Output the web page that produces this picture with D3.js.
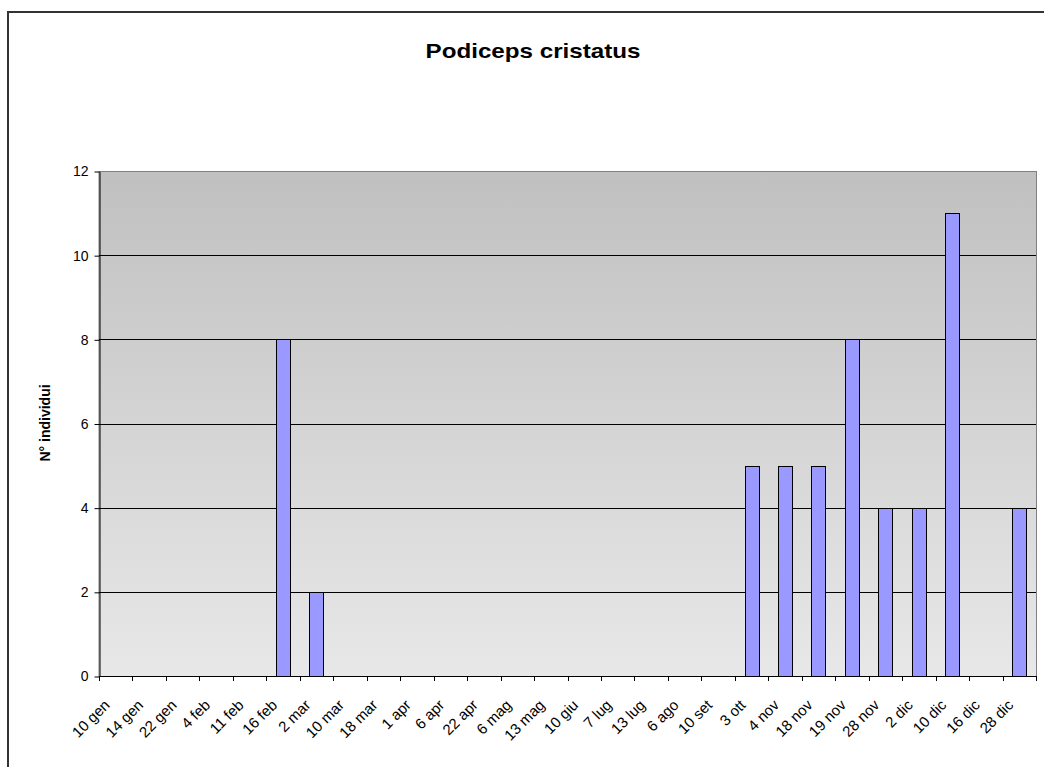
<!DOCTYPE html>
<html>
<head>
<meta charset="utf-8">
<script src="https://cdn.jsdelivr.net/npm/d3@7"></script>
<style>
  body { margin: 0; background: #fff; }
  svg { display: block; font-family: Arial, "Liberation Sans", sans-serif; }
</style>
</head>
<body>
<svg id="chart"></svg>
<script>
// dates of the counts
var dates = ["10 gen", "14 gen", "22 gen", "4 feb", "11 feb", "16 feb", "2 mar", "10 mar",
  "18 mar", "1 apr", "6 apr", "22 apr", "6 mag", "13 mag", "10 giu", "7 lug", "13 lug",
  "6 ago", "10 set", "3 ott", "4 nov", "18 nov", "19 nov", "28 nov", "2 dic", "10 dic",
  "16 dic", "28 dic"];
// N° individui
var counts = [0, 0, 0, 0, 0, 8, 2, 0, 0, 0, 0, 0, 0, 0, 0, 0, 0, 0, 0, 5, 5, 5, 8, 4, 4, 11, 0, 4];
var yTicks = [0, 2, 4, 6, 8, 10, 12];

var width = 1044, height = 767;
var plotLeft = 99, plotRight = 1036, plotTop = 171, plotBottom = 676;

var svg = d3.select('#chart')
  .attr('width', width)
  .attr('height', height);

// outer chart border (runs off the right and bottom edges)
svg.append('rect')
  .attr('x', 8).attr('y', 12)
  .attr('width', 1060).attr('height', 800)
  .attr('fill', '#fff')
  .attr('stroke', '#333')
  .attr('stroke-width', 2);

var defs = svg.append('defs');
var grad = defs.append('linearGradient')
  .attr('id', 'bg')
  .attr('x1', 0).attr('y1', 0).attr('x2', 0).attr('y2', 1);
grad.append('stop').attr('offset', '0%').attr('stop-color', '#c0c0c0');
grad.append('stop').attr('offset', '100%').attr('stop-color', '#e8e8e8');

var data = dates.map((d, i) => ({ date: d, value: counts[i] }));

var xCat = d3.scaleBand()
  .domain(dates)
  .range([plotLeft, plotRight]);

var xBar = d3.scaleBand()
  .domain(dates)
  .range([plotLeft, plotRight])
  .paddingInner(0.58)
  .paddingOuter(0.29);

var y = d3.scaleLinear()
  .domain([0, 12])
  .range([plotBottom, plotTop]);

// plot area
svg.append('rect')
  .attr('x', plotLeft).attr('y', plotTop + 0.5)
  .attr('width', plotRight - plotLeft + 0.5).attr('height', plotBottom - plotTop)
  .attr('fill', 'url(#bg)')
  .attr('stroke', '#808080')
  .attr('stroke-width', 1);

// gridlines
svg.append('g')
  .selectAll('line')
  .data(yTicks.filter(d => d > 0 && d < 12))
  .enter()
  .append('line')
  .attr('x1', plotLeft).attr('x2', plotRight)
  .attr('y1', d => Math.round(y(d)) + 0.5)
  .attr('y2', d => Math.round(y(d)) + 0.5)
  .attr('stroke', '#000')
  .attr('stroke-width', 1);

// bars
svg.append('g')
  .selectAll('rect')
  .data(data.filter(d => d.value > 0))
  .enter()
  .append('rect')
  .attr('x', d => Math.round(xBar(d.date)) + 0.5)
  .attr('y', d => Math.round(y(d.value)) + 0.5)
  .attr('width', Math.round(xBar.bandwidth()))
  .attr('height', d => Math.round(y(0)) - Math.round(y(d.value)))
  .attr('fill', '#9999ff')
  .attr('stroke', '#000')
  .attr('stroke-width', 1);

// y axis
var yAxis = svg.append('g')
  .attr('transform', `translate(${plotLeft + 0.5},0.5)`)
  .call(d3.axisLeft(y).tickValues(yTicks).tickSize(5).tickSizeOuter(0).tickPadding(6));
yAxis.select('.domain').attr('stroke', '#000');
yAxis.selectAll('.tick line').attr('stroke', '#000');
yAxis.selectAll('.tick text')
  .attr('font-size', 14)
  .attr('font-family', 'Arial, "Liberation Sans", sans-serif')
  .attr('fill', '#000');

// x axis: line, boundary ticks, rotated labels
var xg = svg.append('g');
xg.append('line')
  .attr('x1', plotLeft).attr('x2', plotRight)
  .attr('y1', plotBottom + 0.5).attr('y2', plotBottom + 0.5)
  .attr('stroke', '#000');
xg.selectAll('.xtick')
  .data(dates.map(d => xCat(d)).concat([plotRight]))
  .enter()
  .append('line')
  .classed('xtick', true)
  .attr('x1', d => Math.round(d) + 0.5).attr('x2', d => Math.round(d) + 0.5)
  .attr('y1', plotBottom).attr('y2', plotBottom + 5)
  .attr('stroke', '#000');
xg.selectAll('.xlabel')
  .data(dates)
  .enter()
  .append('text')
  .classed('xlabel', true)
  .attr('transform', d => `translate(${xCat(d) + xCat.bandwidth() / 2 - 5},${plotBottom + 30}) rotate(-45)`)
  .attr('text-anchor', 'end')
  .attr('font-size', 15)
  .text(d => d);

// title
svg.append('text')
  .attr('x', 533).attr('y', 58)
  .attr('text-anchor', 'middle')
  .attr('font-size', 21)
  .attr('font-weight', 'bold')
  .attr('textLength', 215)
  .attr('lengthAdjust', 'spacingAndGlyphs')
  .text('Podiceps cristatus');

// y axis title
svg.append('text')
  .attr('transform', 'translate(50,423) rotate(-90)')
  .attr('text-anchor', 'middle')
  .attr('font-size', 14)
  .attr('font-weight', 'bold')
  .text('N° individui');
</script>
</body>
</html>
